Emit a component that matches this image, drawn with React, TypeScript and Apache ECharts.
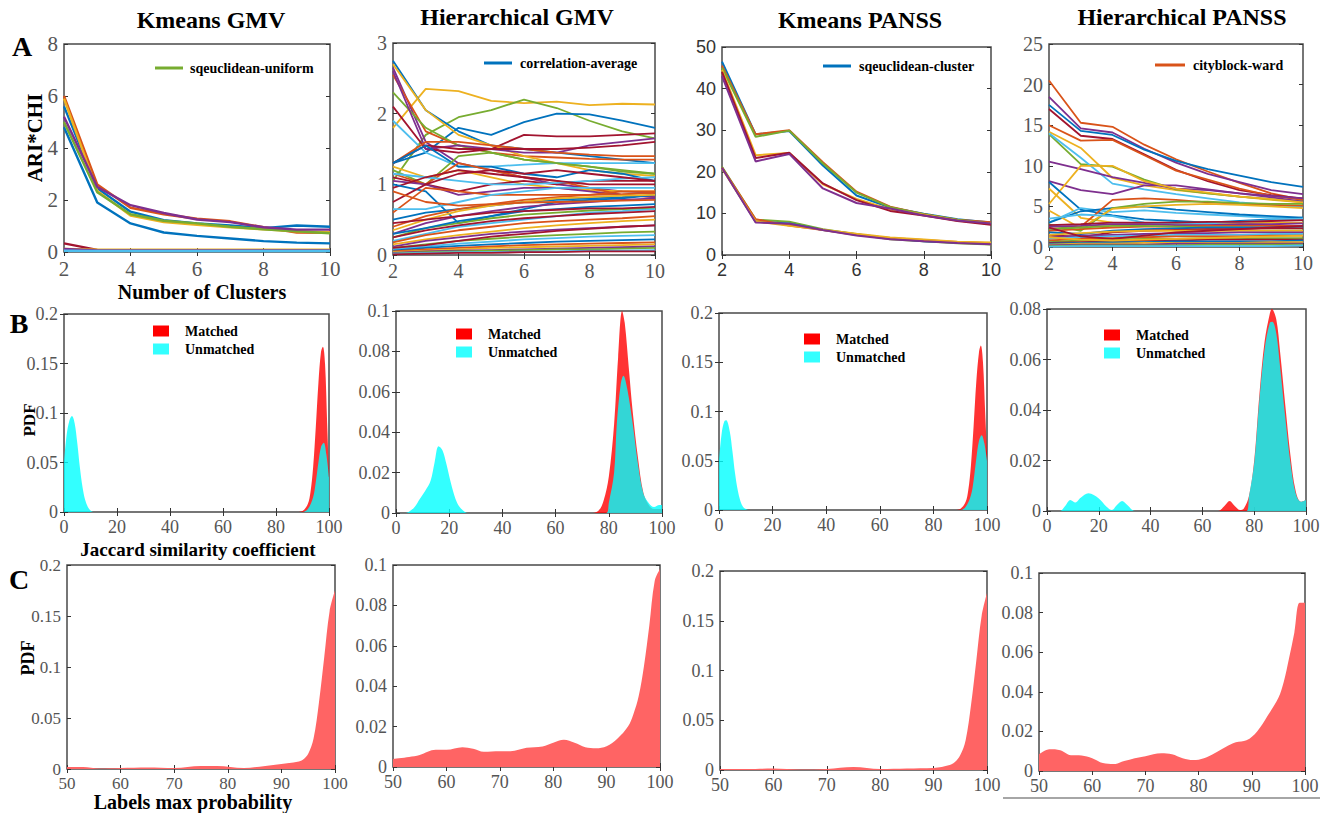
import React, { useEffect, useRef } from 'react';
import * as echarts from 'echarts';

// MATLAB default palette
const PAL: Record<string, string> = {
  b: '#0072BD', o: '#D95319', y: '#EDB120', p: '#7E2F8E', g: '#77AC30', c: '#4DBEEE', r: '#A2142F',
};

const clusterCounts = [2, 3, 4, 5, 6, 7, 8, 9, 10];

// ---- Row A: ARI*CHI vs number of clusters ----
const kmeansGmvNames = ['kg1', 'kg2', 'kg3', 'kg4', 'sqeuclidean-uniform', 'kg6', 'kg7', 'kg8', 'kg9', 'kg10'];
const kmeansGmvColors = ['b', 'b', 'o', 'y', 'g', 'p', 'r', 'y', 'p', 'c'];
const kmeansGmvLines = [
  [4.8, 1.9, 1.1, 0.75, 0.62, 0.52, 0.42, 0.36, 0.33],
  [5.6, 2.45, 1.55, 1.22, 1.1, 1.02, 0.92, 1.02, 0.97],
  [6.0, 2.6, 1.7, 1.45, 1.28, 1.18, 0.95, 0.75, 0.74],
  [5.9, 2.35, 1.4, 1.15, 1.05, 0.95, 0.87, 0.8, 0.75],
  [5.0, 2.3, 1.45, 1.2, 1.1, 0.97, 0.87, 0.8, 0.72],
  [5.2, 2.5, 1.8, 1.5, 1.25, 1.15, 0.95, 0.86, 0.86],
  [0.33, 0.08, 0.07, 0.07, 0.07, 0.07, 0.07, 0.07, 0.07],
  [0.12, 0.09, 0.09, 0.09, 0.09, 0.09, 0.09, 0.09, 0.09],
  [0.12, 0.06, 0.06, 0.06, 0.06, 0.06, 0.06, 0.06, 0.06],
  [0.05, 0.04, 0.04, 0.04, 0.04, 0.04, 0.04, 0.04, 0.04],
];

const hierGmvColors = [
  'y', 'g', 'b', 'b', 'p', 'o', 'y', 'g', 'r', 'c', 'p', 'o', 'r', 'b', 'g', 'y', 'r', 'o', 'p', 'c', 'r', 'b', 'r', 'o', 'c',
  'b', 'o', 'y', 'p', 'g', 'c', 'r', 'b', 'o', 'y', 'p', 'g', 'c', 'r', 'b', 'o', 'y', 'p', 'g', 'c', 'r', 'r', 'o',
];
const hierGmvLines = [
  [1.8, 2.35, 2.32, 2.18, 2.15, 2.17, 2.12, 2.14, 2.13],
  [1.05, 1.7, 1.95, 2.05, 2.2, 2.08, 1.9, 1.75, 1.65],
  [1.3, 1.45, 1.8, 1.7, 1.88, 2.0, 1.99, 1.9, 1.8],
  [2.75, 2.05, 1.75, 1.55, 1.5, 1.45, 1.4, 1.35, 1.3],
  [2.65, 1.6, 1.3, 1.2, 1.1, 1.0, 0.95, 0.9, 0.88],
  [2.55, 1.75, 1.55, 1.45, 1.4, 1.38, 1.36, 1.35, 1.35],
  [2.7, 2.05, 1.7, 1.55, 1.4, 1.3, 1.2, 1.15, 1.12],
  [2.3, 1.8, 1.55, 1.45, 1.35, 1.3, 1.25, 1.2, 1.15],
  [2.1, 1.5, 1.45, 1.5, 1.7, 1.68, 1.68, 1.7, 1.72],
  [1.9, 1.45, 1.25, 1.25, 1.28, 1.3, 1.3, 1.3, 1.3],
  [2.6, 1.5, 1.55, 1.5, 1.45, 1.45, 1.55, 1.6, 1.65],
  [1.3, 1.6, 1.6, 1.55, 1.5, 1.45, 1.42, 1.4, 1.4],
  [1.3, 1.55, 1.5, 1.5, 1.5, 1.5, 1.52, 1.55, 1.6],
  [1.3, 1.55, 1.25, 1.25, 1.15, 1.1, 1.2, 1.15, 1.05],
  [1.2, 1.0, 1.4, 1.45, 1.35, 1.3, 1.25, 1.18, 1.15],
  [1.25, 1.1, 1.2, 1.1, 1.0, 0.95, 0.92, 0.9, 0.9],
  [1.1, 1.0, 0.9, 1.0, 1.05, 1.0, 1.05, 1.05, 1.05],
  [1.15, 1.0, 1.3, 1.2, 1.1, 1.05, 0.95, 0.85, 0.82],
  [1.05, 1.0, 0.85, 0.9, 0.95, 0.95, 0.9, 0.85, 0.82],
  [1.15, 1.1, 1.05, 1.0, 1.0, 1.02, 1.05, 1.08, 1.1],
  [0.95, 1.1, 1.2, 1.15, 1.1, 1.05, 1.0, 1.0, 1.0],
  [1.0, 0.9, 0.45, 0.55, 0.65, 0.75, 0.78, 0.8, 0.85],
  [0.75, 1.0, 1.15, 1.2, 1.15, 1.2, 1.15, 1.1, 1.05],
  [0.6, 0.95, 0.9, 0.85, 0.85, 0.85, 0.85, 0.9, 0.9],
  [0.65, 0.65, 0.75, 0.85, 0.9, 0.95, 0.95, 0.95, 0.95],
  [0.5, 0.6, 0.65, 0.7, 0.75, 0.78, 0.8, 0.82, 0.85],
  [0.4, 0.55, 0.65, 0.72, 0.78, 0.82, 0.85, 0.86, 0.88],
  [0.35, 0.5, 0.62, 0.7, 0.75, 0.8, 0.82, 0.84, 0.85],
  [0.3, 0.45, 0.55, 0.62, 0.68, 0.72, 0.75, 0.78, 0.8],
  [0.25, 0.38, 0.45, 0.52, 0.57, 0.6, 0.63, 0.65, 0.66],
  [0.2, 0.3, 0.4, 0.45, 0.5, 0.55, 0.6, 0.62, 0.65],
  [0.25, 0.35, 0.42, 0.48, 0.52, 0.55, 0.58, 0.6, 0.62],
  [0.3, 0.38, 0.48, 0.55, 0.62, 0.65, 0.68, 0.7, 0.72],
  [0.18, 0.28, 0.35, 0.4, 0.45, 0.48, 0.5, 0.52, 0.55],
  [0.15, 0.22, 0.28, 0.33, 0.38, 0.42, 0.45, 0.48, 0.5],
  [0.12, 0.2, 0.25, 0.3, 0.33, 0.36, 0.38, 0.4, 0.42],
  [0.1, 0.15, 0.2, 0.23, 0.26, 0.28, 0.3, 0.32, 0.33],
  [0.08, 0.12, 0.16, 0.19, 0.22, 0.24, 0.26, 0.27, 0.28],
  [0.1, 0.14, 0.2, 0.26, 0.3, 0.34, 0.37, 0.4, 0.42],
  [0.06, 0.1, 0.13, 0.15, 0.17, 0.19, 0.2, 0.21, 0.22],
  [0.05, 0.08, 0.1, 0.12, 0.14, 0.15, 0.16, 0.17, 0.18],
  [0.04, 0.06, 0.08, 0.1, 0.11, 0.12, 0.13, 0.14, 0.15],
  [0.03, 0.05, 0.06, 0.07, 0.08, 0.09, 0.1, 0.11, 0.12],
  [0.02, 0.04, 0.05, 0.06, 0.07, 0.08, 0.08, 0.09, 0.1],
  [0.02, 0.03, 0.04, 0.04, 0.05, 0.05, 0.06, 0.06, 0.07],
  [0.01, 0.02, 0.03, 0.03, 0.04, 0.04, 0.05, 0.05, 0.05],
  [0.45, 0.5, 0.55, 0.6, 0.62, 0.64, 0.66, 0.66, 0.68],
  [0.9, 0.75, 0.7, 0.72, 0.74, 0.75, 0.76, 0.77, 0.78],
];
const hierGmvLegendIndex = 3;
const hierGmvLegend = 'correlation-average';

const kmeansPanssColors = ['b', 'o', 'g', 'y', 'r', 'p', 'g', 'b', 'o', 'y', 'p'];
const kmeansPanssLines = [
  [46.5, 29.0, 29.8, 21.5, 14.3, 11.4, 9.9, 8.6, 7.8],
  [45.5, 29.0, 30.0, 22.3, 15.2, 11.6, 9.8, 8.5, 7.9],
  [45.0, 28.4, 29.9, 22.0, 15.0, 11.5, 9.8, 8.5, 7.6],
  [44.5, 24.0, 24.5, 17.0, 13.5, 11.0, 9.7, 8.3, 7.5],
  [44.0, 23.3, 24.6, 17.2, 13.2, 10.6, 9.5, 8.2, 7.3],
  [43.0, 22.5, 24.3, 16.0, 12.5, 11.2, 9.5, 8.3, 7.6],
  [21.2, 8.5, 8.0, 6.2, 5.0, 3.8, 3.3, 2.8, 2.5],
  [21.0, 8.0, 7.6, 6.0, 5.0, 4.0, 3.3, 3.0, 2.7],
  [21.0, 8.6, 7.1, 6.0, 4.8, 4.1, 3.6, 3.1, 2.8],
  [20.8, 8.1, 7.0, 6.1, 5.1, 4.2, 3.7, 3.2, 3.0],
  [20.9, 7.8, 7.5, 6.0, 4.7, 3.8, 3.3, 2.9, 2.6],
];
const kmeansPanssLegendIndex = 0;
const kmeansPanssLegend = 'sqeuclidean-cluster';

const hierPanssColors = [
  'o', 'p', 'b', 'r', 'o', 'y', 'g', 'c', 'p', 'p', 'y', 'b', 'y', 'c', 'b', 'o', 'g', 'y', 'c',
  'r', 'p', 'o', 'g', 'b', 'r', 'y', 'p', 'c', 'o', 'g', 'r', 'b', 'y', 'p', 'g', 'c', 'r', 'y',
];
const hierPanssLines = [
  [20.5, 15.3, 14.8, 12.6, 10.8, 9.3, 7.9, 6.6, 5.8],
  [18.5, 14.6, 14.1, 12.1, 10.4, 9.0, 8.0, 7.0, 6.5],
  [17.5, 14.3, 13.8, 12.0, 10.6, 9.6, 8.8, 8.0, 7.4],
  [17.0, 13.7, 13.3, 11.4, 9.5, 8.1, 7.0, 6.4, 6.0],
  [15.0, 13.1, 13.2, 11.3, 9.4, 8.3, 7.2, 6.3, 5.8],
  [14.2, 12.2, 8.5, 7.6, 7.0, 6.6, 6.2, 5.8, 5.5],
  [13.9, 10.2, 9.9, 8.3, 7.1, 6.6, 6.2, 5.9, 5.6],
  [14.0, 11.0, 7.8, 7.1, 6.5, 6.0, 5.5, 5.2, 4.9],
  [10.5, 9.6, 8.6, 7.9, 7.2, 7.0, 6.6, 6.3, 6.0],
  [8.1, 7.0, 6.5, 7.6, 7.6, 7.1, 6.6, 6.1, 5.6],
  [5.3, 10.0, 10.0, 8.1, 7.2, 6.7, 6.2, 5.9, 5.5],
  [8.0, 4.6, 3.9, 3.4, 3.2, 3.0, 3.2, 3.4, 3.6],
  [7.2, 3.6, 3.0, 2.9, 2.8, 2.8, 2.9, 3.0, 3.0],
  [3.0, 4.8, 4.3, 4.5, 4.2, 4.0, 3.8, 3.6, 3.5],
  [3.0, 4.4, 4.8, 5.0, 4.6, 4.3, 4.0, 3.8, 3.6],
  [2.5, 2.5, 5.8, 6.0, 5.8, 5.5, 5.3, 5.2, 5.1],
  [2.8, 2.0, 4.8, 5.3, 5.6, 5.6, 5.4, 5.3, 5.3],
  [4.5, 2.3, 4.7, 5.0, 5.2, 5.3, 5.2, 5.0, 4.8],
  [3.5, 4.0, 3.8, 3.0, 2.8, 2.9, 3.1, 3.3, 3.5],
  [2.7, 2.8, 3.0, 3.0, 3.0, 3.1, 3.1, 3.2, 3.3],
  [2.5, 2.6, 2.8, 2.8, 2.7, 2.7, 2.8, 2.8, 2.9],
  [2.0, 2.2, 2.4, 2.5, 2.5, 2.6, 2.6, 2.6, 2.6],
  [2.2, 2.4, 2.6, 2.6, 2.5, 2.4, 2.4, 2.3, 2.3],
  [1.8, 1.6, 2.0, 2.2, 2.3, 2.4, 2.4, 2.4, 2.5],
  [1.5, 1.2, 1.8, 2.0, 2.1, 2.2, 2.2, 2.3, 2.3],
  [1.5, 1.7, 1.9, 2.0, 2.0, 2.0, 2.0, 2.0, 2.0],
  [1.2, 1.4, 1.5, 1.6, 1.7, 1.7, 1.8, 1.8, 1.8],
  [1.0, 1.2, 1.3, 1.4, 1.5, 1.5, 1.5, 1.6, 1.6],
  [0.8, 1.0, 1.1, 1.2, 1.3, 1.3, 1.3, 1.4, 1.4],
  [0.6, 0.8, 0.9, 1.0, 1.0, 1.1, 1.1, 1.1, 1.1],
  [0.5, 0.6, 0.7, 0.8, 0.8, 0.9, 0.9, 0.9, 0.9],
  [0.4, 0.5, 0.6, 0.6, 0.7, 0.7, 0.7, 0.7, 0.8],
  [0.3, 0.4, 0.4, 0.5, 0.5, 0.5, 0.5, 0.6, 0.6],
  [0.2, 0.3, 0.3, 0.3, 0.4, 0.4, 0.4, 0.4, 0.4],
  [0.1, 0.2, 0.2, 0.2, 0.2, 0.3, 0.3, 0.3, 0.3],
  [0.05, 0.1, 0.1, 0.1, 0.1, 0.1, 0.1, 0.1, 0.2],
  [2.4, 1.3, 1.0, 1.4, 1.8, 2.0, 2.2, 2.4, 2.6],
  [1.2, 0.9, 0.8, 0.9, 1.0, 1.1, 1.2, 1.3, 1.4],
];
const hierPanssLegendIndex = 0;
const hierPanssLegend = 'cityblock-ward';

// ---- Row B: Jaccard similarity PDFs ([x, pdf]) ----
const jaccKmGmvMatched = [[0, 0], [88, 0], [90, 0.001], [92, 0.008], [93, 0.02], [94, 0.045], [95, 0.085], [96, 0.13], [97, 0.162], [97.7, 0.167], [98.5, 0.15], [99.3, 0.09], [100, 0.038]];
const jaccKmGmvUnmatched = [[0, 0.05], [1, 0.078], [2, 0.092], [3, 0.097], [4, 0.09], [5, 0.07], [6, 0.045], [7, 0.025], [8, 0.012], [9, 0.005], [10, 0.0015], [11, 0], [90, 0], [92, 0.003], [94, 0.015], [95, 0.03], [96, 0.05], [97, 0.066], [98, 0.07], [99, 0.058], [100, 0.035]];

const jaccHiGmvMatched = [[0, 0], [73, 0], [76, 0.001], [78, 0.006], [80, 0.018], [82, 0.044], [83.5, 0.077], [85, 0.1], [86, 0.094], [87.5, 0.072], [89, 0.05], [91, 0.027], [93, 0.01], [95, 0.004], [97, 0.002], [100, 0.002]];
const jaccHiGmvUnmatched = [[0, 0], [3, 0], [5, 0.0008], [7, 0.003], [9, 0.007], [11, 0.011], [13, 0.016], [14.5, 0.025], [16, 0.033], [17.5, 0.031], [19, 0.024], [21, 0.013], [23, 0.005], [25, 0.0015], [27, 0], [79, 0], [80, 0.005], [82, 0.02], [83, 0.044], [84.5, 0.064], [85.5, 0.068], [87, 0.061], [89, 0.044], [91, 0.024], [93, 0.0096], [95, 0.005], [97, 0.003], [99, 0.004], [100, 0.004]];

const jaccKmPanssMatched = [[0, 0], [88, 0], [90, 0.001], [92, 0.008], [93, 0.02], [94, 0.045], [95, 0.085], [96, 0.13], [97, 0.16], [97.7, 0.167], [98.5, 0.15], [99.3, 0.1], [100, 0.06]];
const jaccKmPanssUnmatched = [[0, 0.05], [1, 0.078], [2, 0.09], [2.7, 0.091], [4, 0.08], [5, 0.06], [6, 0.037], [7, 0.02], [8, 0.009], [9, 0.003], [10, 0.001], [11, 0], [90, 0], [92, 0.003], [94, 0.015], [95, 0.03], [96, 0.052], [97, 0.07], [98, 0.076], [99, 0.068], [100, 0.05]];

const jaccHiPanssMatched = [[0, 0], [66, 0], [68.5, 0.002], [70.5, 0.004], [72.5, 0.002], [74.5, 0.0004], [76, 0.001], [78, 0.006], [80, 0.02], [82, 0.046], [84, 0.067], [86, 0.078], [86.8, 0.08], [88.5, 0.076], [90, 0.063], [92, 0.042], [94, 0.022], [96, 0.008], [98, 0.0037], [100, 0.0044]];
const jaccHiPanssUnmatched = [[0, 0], [5, 0], [7, 0.002], [9, 0.0044], [11, 0.0034], [13, 0.0052], [16, 0.007], [20, 0.005], [23, 0.0017], [25, 0.0004], [27, 0.0024], [29, 0.004], [31, 0.0024], [34, 0], [77, 0], [78, 0.0057], [80, 0.019], [82, 0.044], [84, 0.064], [86, 0.0745], [87, 0.075], [88.5, 0.0705], [90, 0.057], [92, 0.037], [94, 0.019], [96, 0.007], [98, 0.0037], [100, 0.0044]];

// ---- Row C: labels max probability PDFs ----
const probKmGmv = [[50, 0.002], [53, 0.002], [56, 0.0005], [60, 0.001], [65, 0.0015], [70, 0.001], [75, 0.003], [78, 0.003], [83, 0.001], [87, 0.003], [90, 0.005], [93, 0.007], [94, 0.009], [95, 0.015], [96, 0.03], [97, 0.065], [98, 0.11], [99, 0.155], [100, 0.175]];
const probHiGmv = [[50, 0.004], [53, 0.005], [55, 0.006], [58, 0.0085], [60, 0.0085], [63, 0.0098], [65, 0.009], [67, 0.0075], [70, 0.0078], [72, 0.0078], [75, 0.0095], [78, 0.0102], [80, 0.012], [82, 0.0135], [84, 0.012], [86, 0.0098], [88, 0.0093], [90, 0.0103], [92, 0.014], [94, 0.02], [95, 0.026], [96, 0.035], [97, 0.05], [98, 0.07], [99, 0.092], [100, 0.098]];
const probKmPanss = [[50, 0.001], [55, 0.001], [60, 0.0015], [65, 0.0005], [70, 0.001], [75, 0.003], [80, 0.001], [85, 0.0015], [90, 0.002], [93, 0.005], [94, 0.008], [95, 0.015], [96, 0.03], [97, 0.065], [98, 0.11], [99, 0.155], [100, 0.178]];
const probHiPanss = [[50, 0.0085], [52, 0.011], [54, 0.0105], [56, 0.008], [58, 0.0078], [60, 0.0065], [62, 0.004], [64, 0.0035], [66, 0.005], [68, 0.0065], [70, 0.0075], [73, 0.009], [75, 0.0085], [77, 0.0065], [79, 0.0055], [81, 0.0065], [83, 0.009], [85, 0.012], [87, 0.0145], [89, 0.0155], [91, 0.02], [93, 0.028], [95, 0.037], [96, 0.045], [97, 0.057], [98, 0.07], [99, 0.085], [100, 0.085]];

const titles = ['Kmeans GMV', 'Hierarchical GMV', 'Kmeans PANSS', 'Hierarchical PANSS'];

const SERIF = 'Liberation Serif';
const SANS = 'Liberation Sans';

function buildOption() {
  const grid: any[] = [];
  const xAxis: any[] = [];
  const yAxis: any[] = [];
  const series: any[] = [];
  const legend: any[] = [];
  const graphic: any[] = [];

  const fmt = (v: number) => String(parseFloat(Number(v).toFixed(4)));

  function addPanel(rect: number[], xr: number[], yr: number[], font: { family: string; size: number; color: string }) {
    const gi = grid.length;
    grid.push({ left: rect[0], top: rect[1], width: rect[2], height: rect[3], show: true, borderColor: '#4a4a4a', borderWidth: 1.5 });
    const tick = { show: true, inside: true, length: 4, lineStyle: { color: '#333', width: 1 } };
    const mkLab = (margin: number) => ({
      show: true, margin, formatter: fmt,
      fontFamily: font.family, fontSize: font.size, color: font.color,
    });
    const xi = xAxis.length;
    xAxis.push({ gridIndex: gi, type: 'value', position: 'bottom', min: xr[0], max: xr[1], interval: xr[2], axisLine: { show: false }, axisTick: tick, splitLine: { show: false }, axisLabel: mkLab(6) });
    xAxis.push({ gridIndex: gi, type: 'value', position: 'top', min: xr[0], max: xr[1], interval: xr[2], axisLine: { show: false }, axisTick: tick, splitLine: { show: false }, axisLabel: { show: false } });
    const yi = yAxis.length;
    yAxis.push({ gridIndex: gi, type: 'value', position: 'left', min: yr[0], max: yr[1], interval: yr[2], axisLine: { show: false }, axisTick: tick, splitLine: { show: false }, axisLabel: mkLab(6) });
    yAxis.push({ gridIndex: gi, type: 'value', position: 'right', min: yr[0], max: yr[1], interval: yr[2], axisLine: { show: false }, axisTick: tick, splitLine: { show: false }, axisLabel: { show: false } });
    return { xi, yi };
  }

  const legendText = { fontFamily: SERIF, fontWeight: 'bold', fontSize: 14, color: '#000' };

  function addLines(ax: { xi: number; yi: number }, lines: number[][], colors: string[], names: string[], width: number) {
    lines.forEach((vals, k) => {
      const col = PAL[colors[k % colors.length]];
      series.push({
        type: 'line', name: names[k], xAxisIndex: ax.xi, yAxisIndex: ax.yi,
        data: clusterCounts.map((x, j) => [x, vals[j]]),
        symbol: 'none', silent: true, color: col,
        lineStyle: { width, color: col },
      });
    });
  }

  // Row A
  const aRects = [[64, 44, 266, 208], [393, 43, 262, 212], [722, 47, 269, 208], [1049, 44, 254, 203]];
  const serifTick = (size: number) => ({ family: SERIF, size, color: '#555' });

  const a1 = addPanel(aRects[0], [2, 10, 2], [0, 8, 2], serifTick(21));
  addLines(a1, kmeansGmvLines, kmeansGmvColors, kmeansGmvNames, 2.4);
  legend.push({ data: ['sqeuclidean-uniform'], left: 150, top: 56, icon: 'rect', itemWidth: 28, itemHeight: 3, selectedMode: false, textStyle: { ...legendText, padding: [0, 0, 0, 2] } });

  const a2 = addPanel(aRects[1], [2, 10, 2], [0, 3, 1], serifTick(20));
  addLines(a2, hierGmvLines, hierGmvColors, hierGmvLines.map((_, k) => (k === hierGmvLegendIndex ? hierGmvLegend : 'hg' + k)), 1.8);
  legend.push({ data: [hierGmvLegend], left: 479, top: 51, icon: 'rect', itemWidth: 28, itemHeight: 3, selectedMode: false, textStyle: { ...legendText, padding: [0, 0, 0, 3] } });

  const a3 = addPanel(aRects[2], [2, 10, 2], [0, 50, 10], { family: SANS, size: 18, color: '#333' });
  addLines(a3, kmeansPanssLines, kmeansPanssColors, kmeansPanssLines.map((_, k) => (k === kmeansPanssLegendIndex ? kmeansPanssLegend : 'kp' + k)), 2);
  legend.push({ data: [kmeansPanssLegend], left: 818, top: 54, icon: 'rect', itemWidth: 28, itemHeight: 3, selectedMode: false, textStyle: { ...legendText, padding: [0, 0, 0, 3] } });

  const a4 = addPanel(aRects[3], [2, 10, 2], [0, 25, 5], serifTick(20));
  addLines(a4, hierPanssLines, hierPanssColors, hierPanssLines.map((_, k) => (k === hierPanssLegendIndex ? hierPanssLegend : 'hp' + k)), 1.8);
  legend.push({ data: [hierPanssLegend], left: 1150, top: 53, icon: 'rect', itemWidth: 30, itemHeight: 3, selectedMode: false, textStyle: { ...legendText, padding: [0, 0, 0, 3] } });

  // Row B
  const bRects = [[64, 314, 265, 198], [396, 311, 266, 202], [719, 313, 268, 197], [1047, 309, 259, 202]];
  const bY = [[0, 0.2, 0.05], [0, 0.1, 0.02], [0, 0.2, 0.05], [0, 0.08, 0.02]];
  const bData = [
    [jaccKmGmvMatched, jaccKmGmvUnmatched],
    [jaccHiGmvMatched, jaccHiGmvUnmatched],
    [jaccKmPanssMatched, jaccKmPanssUnmatched],
    [jaccHiPanssMatched, jaccHiPanssUnmatched],
  ];
  const bLegendPos = [[148, 319], [451, 322], [799, 327], [1099, 323]];
  bRects.forEach((r, i) => {
    const ax = addPanel(r, [0, 100, 20], bY[i], serifTick(18));
    const [m, u] = bData[i];
    series.push({ type: 'line', name: 'Matched', xAxisIndex: ax.xi, yAxisIndex: ax.yi, data: m, symbol: 'none', smooth: 0.35, silent: true, color: '#ff0000', lineStyle: { width: 0, opacity: 0 }, areaStyle: { color: '#ff0000', opacity: 0.8 } });
    series.push({ type: 'line', name: 'Unmatched', xAxisIndex: ax.xi, yAxisIndex: ax.yi, data: u, symbol: 'none', smooth: 0.35, silent: true, color: '#00ffff', lineStyle: { width: 0, opacity: 0 }, areaStyle: { color: '#00ffff', opacity: 0.8 } });
    legend.push({
      data: [{ name: 'Matched', itemStyle: { color: '#ff0000' } }, { name: 'Unmatched', itemStyle: { color: '#33ffff' } }],
      orient: 'vertical', left: bLegendPos[i][0], top: bLegendPos[i][1], icon: 'rect', itemWidth: 16, itemHeight: 11, itemGap: 4,
      selectedMode: false, textStyle: { ...legendText, padding: [0, 0, 0, 11] },
    });
  });

  // Row C
  const cRects = [[67, 565, 268, 204], [393, 565, 267, 202], [720, 571, 267, 199], [1039, 573, 266, 198]];
  const cY = [[0, 0.2, 0.05], [0, 0.1, 0.02], [0, 0.2, 0.05], [0, 0.1, 0.02]];
  const cData = [probKmGmv, probHiGmv, probKmPanss, probHiPanss];
  cRects.forEach((r, i) => {
    const ax = addPanel(r, [50, 100, 10], cY[i], serifTick(i === 0 ? 17 : 18));
    series.push({ type: 'line', name: 'prob' + i, xAxisIndex: ax.xi, yAxisIndex: ax.yi, data: cData[i], symbol: 'none', smooth: 0.35, silent: true, color: '#ff6262', lineStyle: { width: 0, opacity: 0 }, areaStyle: { color: '#ff6464', opacity: 1 } });
  });

  // texts
  const txt = (text: string, x: number, y: number, size: number, rot = 0) => ({
    type: 'text', x, y, rotation: rot, silent: true,
    style: { text, fill: '#000', fontFamily: SERIF, fontWeight: 'bold', fontSize: size, textAlign: 'center', textVerticalAlign: 'middle', verticalAlign: 'middle' },
  });
  const titleX = [211, 517, 860, 1182];
  const titleY = [20, 17, 20, 17];
  titles.forEach((t, i) => graphic.push(txt(t, titleX[i], titleY[i], 24)));
  graphic.push(txt('A', 22, 46, 28));
  graphic.push(txt('B', 19, 323, 28));
  graphic.push(txt('C', 19, 579, 28));
  graphic.push(txt('ARI*CHI', 35, 138, 21, Math.PI / 2));
  graphic.push(txt('PDF', 29, 420, 17, Math.PI / 2));
  graphic.push(txt('PDF', 28, 658, 18, Math.PI / 2));
  graphic.push(txt('Number of Clusters', 202, 292, 20));
  graphic.push(txt('Jaccard similarity coefficient', 198, 549, 19));
  graphic.push(txt('Labels max probability', 193, 802, 20));
  graphic.push({ type: 'line', silent: true, shape: { x1: 1003, y1: 798, x2: 1320, y2: 798 }, style: { stroke: '#888', lineWidth: 1.5 } });

  return { animation: false, backgroundColor: '#fff', textStyle: { fontFamily: SERIF }, grid, xAxis, yAxis, series, legend, graphic };
}

export default function App() {
  const ref = useRef<HTMLDivElement>(null);
  useEffect(() => {
    document.body.style.margin = '0';
    const chart = echarts.init(ref.current!, null, { renderer: 'svg' });
    chart.setOption(buildOption() as any);
    return () => chart.dispose();
  }, []);
  return <div ref={ref} style={{ position: 'absolute', left: 0, top: 0, width: 1330, height: 813 }} />;
}
